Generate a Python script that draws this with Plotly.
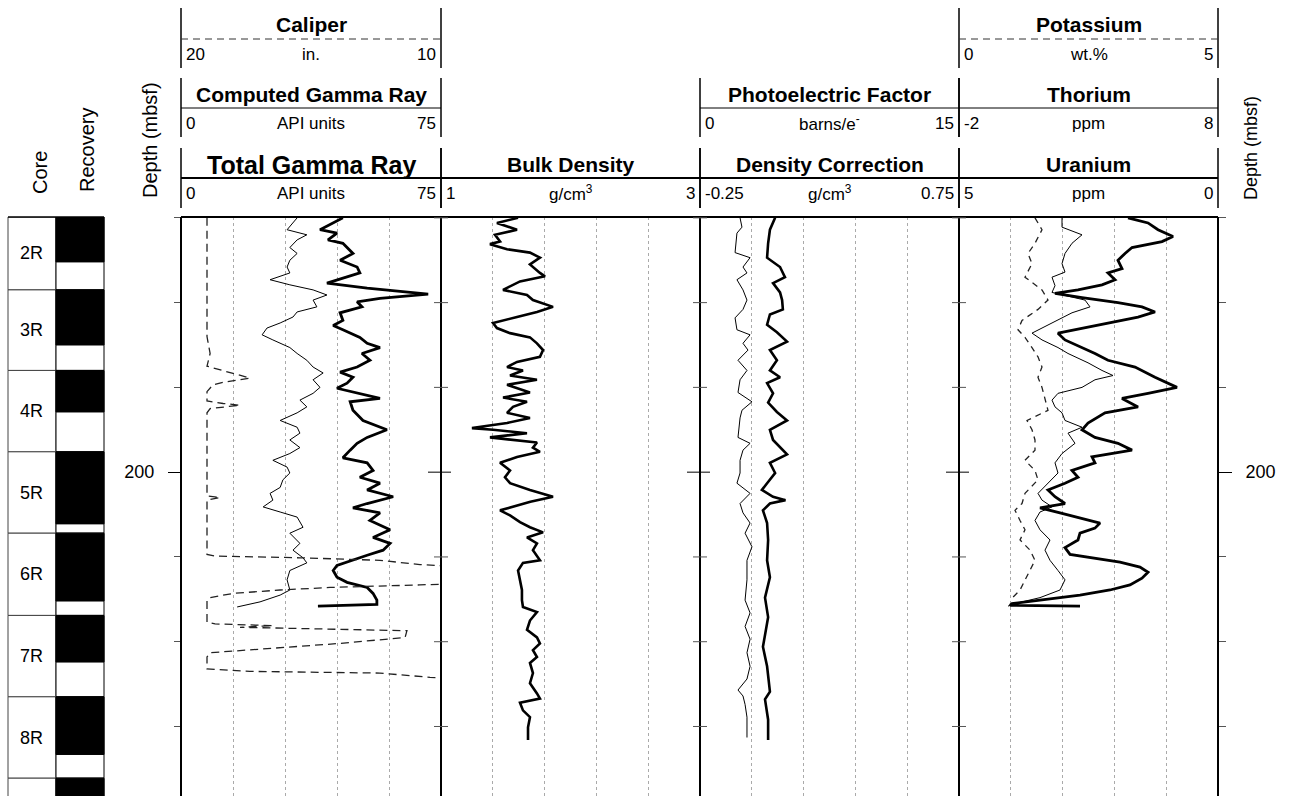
import plotly.graph_objects as go

W, H = 1292, 796

# ---------------- data (depth in mbsf) ----------------
depth_range = [238.2, 169.9]
depth_major = [200]
depth_minor = [170, 180, 190, 210, 220, 230]

core_names = ['2R', '3R', '4R', '5R', '6R', '7R', '8R', '9R']
core_top = [168.9, 178.5, 188.0, 197.6, 207.2, 216.9, 226.5, 236.1]
core_bottom = [178.5, 188.0, 197.6, 207.2, 216.9, 226.5, 236.1, 245.7]
core_recovered = [6.3, 6.5, 4.9, 8.5, 8.0, 5.5, 6.8, 6.0]

# Total gamma ray (API)
tgr_depth = [170.0, 170.6, 171.4, 171.8, 172.6, 173.0, 174.2, 175.0, 175.8, 176.5, 177.3, 177.7,
             178.3, 178.8, 179.0, 179.5, 179.9, 180.5, 181.2, 182.1, 182.7, 183.2, 184.1, 184.8,
             185.3, 186.0, 186.8, 187.6, 188.2, 188.8, 189.5, 190.1, 190.7, 191.3, 191.7, 192.7,
             193.9, 195.0, 195.9, 196.6, 197.4, 198.3, 198.9, 199.8, 200.6, 201.3, 202.1, 202.9,
             203.7, 204.2, 204.8, 205.7, 206.8, 207.7, 208.4, 209.2, 209.8, 210.4, 211.0, 211.6,
             212.4, 213.0, 213.6, 214.3, 215.1, 215.6, 215.8]
tgr_val = [46.7, 43.9, 40.1, 45.0, 42.4, 46.7, 49.6, 45.9, 50.8, 51.6, 45.0, 42.1,
           53.7, 66.1, 71.3, 57.4, 50.8, 52.2, 45.9, 46.7, 43.9, 46.7, 51.6, 53.7,
           57.4, 52.2, 54.5, 50.8, 45.9, 49.6, 47.9, 45.0, 50.8, 57.4, 48.8, 49.6,
           52.5, 59.4, 53.7, 50.8, 48.8, 46.7, 53.7, 55.4, 51.6, 57.4, 53.7, 61.2,
           53.7, 49.6, 57.4, 54.5, 60.3, 55.4, 60.3, 58.3, 53.7, 49.6, 45.0, 43.9,
           45.0, 47.9, 53.7, 55.4, 56.5, 56.5, 39.5]

# Computed gamma ray (API)
cgr_depth = [170.0, 170.6, 171.4, 172.0, 172.6, 173.5, 174.2, 175.0, 175.8, 176.5, 177.3, 177.9,
             178.5, 179.1, 179.7, 180.5, 181.1, 181.7, 182.4, 183.0, 183.8, 184.4, 185.3, 186.0,
             186.8, 187.6, 188.3, 189.1, 190.0, 190.7, 191.5, 192.3, 193.0, 193.9, 194.7, 195.4,
             196.2, 197.1, 197.8, 198.6, 199.4, 200.1, 200.9, 201.8, 202.5, 203.3, 204.1, 204.7,
             205.3, 206.5, 207.2, 208.4, 209.2, 210.1, 210.7, 211.6, 212.7, 213.9, 214.5, 215.3, 215.9]
cgr_val = [33.5, 32.3, 30.6, 36.3, 33.5, 31.4, 33.5, 31.4, 30.6, 31.4, 25.7, 31.4,
           38.1, 42.1, 38.1, 39.2, 33.5, 32.3, 28.6, 24.8, 23.4, 26.5, 31.4, 33.5,
           36.3, 38.1, 41.0, 38.1, 40.1, 38.1, 34.3, 36.3, 33.5, 28.6, 33.5, 34.3,
           31.4, 34.3, 31.4, 26.5, 30.6, 31.4, 29.4, 28.6, 25.7, 26.5, 23.7, 28.6,
           33.5, 35.2, 31.4, 34.3, 32.3, 35.2, 36.3, 31.4, 30.6, 31.4, 28.6, 22.8, 16.2]

# Caliper (in.)
cal_depth = [170.0, 184.0, 184.7, 186.0, 187.5, 188.3, 188.9, 189.4, 189.7, 190.5, 191.6, 191.9,
             192.1, 192.5, 193.0, 202.8, 203.0, 203.3, 209.7, 209.9, 210.1, 210.4, 210.9, 211.2,
             213.1, 213.3, 213.6, 213.9, 214.3, 214.8, 215.1, 217.7, 217.9, 218.1, 218.3, 218.7,
             219.5, 220.2, 220.9, 221.3, 221.8, 223.2, 223.5, 223.7, 224.2, 224.4, 237.0]
cal_val = [19.0, 19.0, 18.96, 18.88, 19.0, 18.1, 17.35, 18.38, 18.77, 19.0, 19.0, 18.38,
           17.73, 18.88, 19.0, 19.0, 18.5, 19.0, 19.0, 18.69, 15.42, 12.35, 10.81, 8.88,
           8.88, 10.81, 14.27, 16.19, 18.0, 18.88, 19.0, 19.0, 18.69, 16.46, 17.73, 11.31,
           11.38, 13.88, 16.96, 18.88, 19.0, 19.0, 17.35, 12.35, 10.42, 8.88, 8.88]

# Bulk density (g/cm3)
rhob_depth = [170.0, 170.6, 171.4, 172.0, 172.8, 173.1, 173.7, 174.1, 174.7, 175.5, 176.5, 176.9,
              177.5, 178.5, 179.1, 179.7, 180.5, 181.1, 181.7, 182.4, 183.0, 183.6, 184.1, 184.8,
              185.6, 186.4, 187.0, 187.6, 188.0, 188.6, 189.1, 189.7, 190.6, 191.2, 191.7, 192.3,
              193.0, 193.6, 194.2, 194.8, 195.0, 195.4, 195.9, 196.5, 197.1, 197.6, 198.2, 198.9,
              199.8, 200.6, 201.3, 202.1, 202.9, 203.5, 204.5, 205.1, 205.9, 206.5, 207.1, 207.7,
              208.4, 209.2, 210.4, 210.7, 211.6, 212.7, 213.9, 215.1, 215.9, 216.5, 217.5, 218.6,
              219.5, 220.2, 221.0, 221.8, 222.5, 223.7, 224.9, 226.1, 226.7, 227.2, 228.1, 228.9,
              230.1, 231.6]
rhob_val = [1.595, 1.432, 1.587, 1.417, 1.456, 1.378, 1.510, 1.687, 1.764, 1.687, 1.764, 1.803,
            1.610, 1.479, 1.664, 1.710, 1.865, 1.741, 1.587, 1.402, 1.432, 1.533, 1.687, 1.741,
            1.788, 1.764, 1.587, 1.510, 1.633, 1.533, 1.741, 1.510, 1.687, 1.479, 1.664, 1.556,
            1.510, 1.687, 1.510, 1.239, 1.402, 1.664, 1.378, 1.741, 1.710, 1.764, 1.587, 1.456,
            1.533, 1.494, 1.533, 1.687, 1.865, 1.690, 1.456, 1.533, 1.610, 1.687, 1.788, 1.664,
            1.741, 1.710, 1.764, 1.633, 1.595, 1.610, 1.625, 1.625, 1.633, 1.741, 1.687, 1.664,
            1.741, 1.764, 1.710, 1.741, 1.687, 1.710, 1.687, 1.741, 1.764, 1.610, 1.633, 1.687,
            1.672, 1.672]

# Photoelectric factor (barns/e-)
pef_depth = [170.0, 171.1, 171.8, 174.1, 174.7, 175.8, 176.5, 177.3, 178.5, 179.7, 180.8, 181.8,
             183.2, 183.8, 184.8, 185.6, 186.8, 188.0, 189.1, 190.6, 191.7, 192.7, 193.6, 195.9,
             196.6, 197.4, 198.6, 200.1, 201.3, 202.5, 203.7, 204.8, 206.0, 207.2, 208.8, 210.4,
             212.7, 215.1, 216.6, 218.2, 219.7, 221.3, 222.9, 224.4, 225.7, 226.4, 227.4, 228.9, 231.3]
pef_val = [2.32, 2.43, 2.14, 2.03, 2.90, 2.49, 2.72, 2.14, 2.49, 2.72, 2.49, 2.03,
           2.14, 2.90, 2.49, 2.78, 2.20, 2.72, 2.32, 2.20, 3.01, 2.43, 2.32, 2.20,
           2.90, 2.49, 2.32, 2.32, 2.14, 2.90, 2.32, 2.49, 2.90, 2.61, 3.01, 2.72,
           2.72, 2.61, 2.90, 2.61, 2.90, 2.72, 2.90, 2.72, 2.20, 2.49, 2.61, 2.72, 2.72]

# Density correction (g/cm3)
drho_depth = [170.0, 171.4, 173.0, 174.7, 175.8, 177.0, 177.7, 178.8, 179.7, 180.8, 181.4, 182.6,
              183.5, 184.6, 185.6, 186.8, 188.0, 188.8, 189.5, 190.7, 191.8, 192.9, 193.9, 195.0,
              196.2, 197.9, 198.9, 200.1, 201.3, 202.1, 202.9, 203.3, 203.7, 204.5, 206.0, 208.0,
              210.4, 212.4, 214.8, 217.1, 220.6, 222.9, 225.9, 226.8, 229.2, 231.6]
drho_val = [0.040, 0.020, 0.013, 0.009, 0.059, 0.078, 0.032, 0.059, 0.067, 0.070, 0.020, 0.009,
            0.047, 0.086, 0.020, 0.047, 0.020, 0.059, 0.009, 0.032, 0.013, 0.047, 0.086, 0.020,
            0.032, 0.086, 0.020, 0.040, 0.009, -0.011, 0.032, 0.080, 0.020, -0.007, 0.009, 0.013,
            0.009, 0.020, 0.001, 0.013, -0.007, 0.009, 0.020, 0.001, 0.013, 0.013]

# Uranium (ppm)
urn_depth = [170.0, 170.6, 171.4, 172.2, 172.8, 173.5, 174.2, 175.0, 176.0, 176.5, 177.3, 177.9,
             178.5, 178.9, 179.4, 180.0, 180.5, 181.1, 181.7, 182.3, 182.9, 183.6, 184.4, 185.3,
             186.0, 186.8, 187.6, 188.8, 189.5, 190.0, 190.7, 191.3, 192.3, 193.0, 194.2, 195.0,
             195.9, 196.6, 197.4, 198.2, 198.9, 199.8, 200.6, 201.3, 202.1, 202.9, 203.7, 204.2,
             204.8, 205.4, 206.0, 206.6, 207.2, 208.0, 208.9, 209.7, 210.6, 211.2, 211.8, 212.5,
             213.3, 213.9, 214.5, 215.1, 215.5, 215.7, 215.8]
urn_val = [1.737, 1.351, 1.158, 0.869, 1.081, 1.660, 1.795, 1.931, 1.853, 2.124, 1.988, 2.239,
           2.703, 3.147, 2.625, 1.931, 1.467, 1.216, 1.544, 2.046, 2.510, 3.089, 2.954, 2.625,
           2.375, 2.124, 1.602, 1.216, 0.965, 0.792, 1.351, 1.853, 1.544, 2.181, 2.510, 2.625,
           2.375, 1.931, 1.660, 2.432, 2.375, 2.819, 2.703, 2.954, 3.282, 3.147, 2.954, 3.436,
           3.050, 2.664, 2.278, 2.375, 2.664, 2.703, 2.954, 2.857, 1.892, 1.506, 1.351, 1.467,
           1.699, 2.085, 2.664, 3.436, 3.977, 4.015, 2.664]

# Thorium (ppm)
thor_depth = [170.0, 171.1, 172.0, 173.0, 174.2, 175.4, 176.4, 177.0, 178.0, 178.8, 179.7, 180.5,
              181.2, 182.4, 183.6, 184.4, 185.3, 186.0, 187.1, 188.0, 188.6, 189.1, 190.0, 190.7,
              191.5, 192.3, 193.0, 193.9, 194.7, 195.4, 196.6, 197.8, 198.9, 200.1, 201.3, 202.5,
              203.3, 204.1, 204.7, 205.7, 206.8, 208.0, 209.2, 210.4, 211.6, 212.7, 213.9, 214.8,
              215.5, 215.8]
thor_val = [1.977, 1.977, 2.749, 2.363, 2.093, 1.977, 2.093, 1.591, 1.707, 1.591, 2.865, 3.058,
            2.363, 1.591, 0.819, 1.205, 1.822, 2.208, 2.981, 3.521, 3.946, 3.251, 2.749, 1.822,
            1.591, 1.707, 1.977, 2.093, 2.749, 2.208, 2.479, 1.977, 1.707, 1.822, 1.436, 1.050,
            1.205, 1.591, 1.127, 0.934, 1.127, 1.514, 1.320, 1.514, 1.822, 2.093, 1.900, 1.127,
            0.162, -0.108]

# Potassium (wt.%)
pot_depth = [170.0, 171.4, 173.0, 174.2, 175.4, 177.0, 178.5, 179.7, 180.8, 182.1, 183.2, 184.1,
             185.3, 186.4, 187.6, 188.8, 190.0, 191.5, 192.7, 193.9, 195.0, 196.2, 197.4, 198.6,
             199.8, 200.9, 202.5, 203.7, 204.5, 205.7, 206.8, 208.0, 209.2, 210.4, 211.6, 212.7,
             213.9, 215.1]
pot_val = [1.467, 1.602, 1.467, 1.332, 1.409, 1.274, 1.602, 1.718, 1.525, 1.216, 1.139, 1.274,
           1.409, 1.525, 1.602, 1.525, 1.602, 1.660, 1.718, 1.313, 1.409, 1.467, 1.467, 1.274,
           1.467, 1.525, 1.274, 1.216, 1.081, 1.178, 1.274, 1.178, 1.371, 1.467, 1.371, 1.274,
           1.178, 0.985]

# ---------------- layout helpers ----------------
FONT = "Liberation Sans, Arial, sans-serif"
TRACKS = [(181, 441), (441, 700), (700, 959), (959, 1218)]
PLOT_TOP = 217


def px(x):
    return x / W


def py(y):
    return 1 - y / H


shapes = []
annotations = []


def vline(x, y0, y1, width=1.5, color='black'):
    shapes.append(dict(type='line', xref='paper', yref='paper', x0=px(x), x1=px(x),
                       y0=py(y0), y1=py(y1), line=dict(color=color, width=width)))


def hline(x0, x1, y, width=1, dash='solid', color='black'):
    shapes.append(dict(type='line', xref='paper', yref='paper', x0=px(x0), x1=px(x1),
                       y0=py(y), y1=py(y), line=dict(color=color, width=width, dash=dash)))


def text(x, y, s, size, xanchor='center', angle=0, bold=False):
    annotations.append(dict(xref='paper', yref='paper', x=px(x), y=py(y), text=('<b>%s</b>' % s) if bold else s,
                            showarrow=False, xanchor=xanchor, yanchor='middle', textangle=angle,
                            font=dict(family=FONT, size=size, color='black')))


# header rows: (top, bottom, line_y, title_y, label_y)
ROWS = {1: (8, 68, 39, 24, 54), 2: (78, 137, 108, 95, 123), 3: (148, 208, 178, 165, 193)}
TSIZE = 21
LSIZE = 17
headers = [
    (0, 1, 'Caliper', '20', 'in.', '10', 'dash', TSIZE),
    (3, 1, 'Potassium', '0', 'wt.%', '5', 'dash', TSIZE),
    (0, 2, 'Computed Gamma Ray', '0', 'API units', '75', 'thin', TSIZE),
    (2, 2, 'Photoelectric Factor', '0', 'barns/e<sup>-</sup>', '15', 'thin', TSIZE),
    (3, 2, 'Thorium', '-2', 'ppm', '8', 'thin', TSIZE),
    (0, 3, 'Total Gamma Ray', '0', 'API units', '75', 'thick', 25),
    (1, 3, 'Bulk Density', '1', 'g/cm<sup>3</sup>', '3', 'thick', TSIZE),
    (2, 3, 'Density Correction', '-0.25', 'g/cm<sup>3</sup>', '0.75', 'thick', TSIZE),
    (3, 3, 'Uranium', '5', 'ppm', '0', 'thick', TSIZE),
]
for ti, row, title, lo, unit, hi, style, tsize in headers:
    x0, x1 = TRACKS[ti]
    top, bot, ly, tyy, lby = ROWS[row]
    vline(x0, top, bot)
    vline(x1, top, bot)
    if style == 'dash':
        hline(x0, x1, ly, width=1, dash='7px,5px', color='#333')
    elif style == 'thin':
        hline(x0, x1, ly, width=1)
    else:
        hline(x0, x1, ly, width=2)
    text((x0 + x1) / 2, tyy, title, tsize, bold=True)
    text(x0 + 3, lby, lo, LSIZE, xanchor='left')
    text((x0 + x1) / 2, lby, unit, LSIZE)
    text(x1 - 3, lby, hi, LSIZE, xanchor='right')

# column titles
text(40, 173, 'Core', 20, angle=-90)
text(87, 150, 'Recovery', 20, angle=-90)
text(150, 140, 'Depth (mbsf)', 20, angle=-90)
text(1251, 148, 'Depth (mbsf)', 18, angle=-90)

# track borders
for x in [181, 441, 700, 959, 1218]:
    vline(x, PLOT_TOP, H, width=2)
hline(181, 1218, PLOT_TOP, width=2)

# depth ticks across interior track borders
for x in [441, 700, 959]:
    for d in depth_minor:
        shapes.append(dict(type='line', xref='paper', yref='y', x0=px(x - 7), x1=px(x + 7), y0=d, y1=d,
                           line=dict(color='#555', width=1)))
    for d in depth_major:
        shapes.append(dict(type='line', xref='paper', yref='y', x0=px(x - 13), x1=px(x + 10), y0=d, y1=d,
                           line=dict(color='black', width=1)))

# core and recovery columns
top_vis = min(depth_range)
bottom_vis = max(depth_range)
for name, t, b, rec in zip(core_names, core_top, core_bottom, core_recovered):
    t_vis = max(t, top_vis)
    shapes.append(dict(type='rect', xref='paper', yref='y', x0=px(8), x1=px(56), y0=t_vis, y1=b,
                       line=dict(color='#444', width=1), fillcolor='white'))
    shapes.append(dict(type='rect', xref='paper', yref='y', x0=px(56), x1=px(104), y0=t_vis, y1=b,
                       line=dict(color='black', width=1), fillcolor='white'))
    shapes.append(dict(type='rect', xref='paper', yref='y', x0=px(56), x1=px(104), y0=t_vis, y1=t + rec,
                       line=dict(color='black', width=1), fillcolor='black'))
    if t < bottom_vis - 4:
        annotations.append(dict(xref='paper', yref='y', x=px(31), y=(t_vis + b) / 2, text=name,
                                showarrow=False, xanchor='center', yanchor='middle',
                                font=dict(family=FONT, size=18, color='black')))
hline(8, 104, PLOT_TOP, width=1.5)

# ---------------- traces ----------------
fig = go.Figure()


def add(x, y, xa, width, dash='solid', color='black'):
    fig.add_trace(go.Scatter(x=x, y=y, xaxis=xa, yaxis='y', mode='lines', hoverinfo='skip',
                             showlegend=False, line=dict(color=color, width=width, dash=dash)))


add(cal_val, cal_depth, 'x3', 1.3, '8px,5px', '#222')
add(cgr_val, cgr_depth, 'x2', 1)
add(tgr_val, tgr_depth, 'x', 2.8)
add(rhob_val, rhob_depth, 'x4', 2.6)
add(pef_val, pef_depth, 'x5', 1)
add(drho_val, drho_depth, 'x6', 2.6)
add(pot_val, pot_depth, 'x9', 1.3, '6px,5px', '#222')
add(thor_val, thor_depth, 'x8', 1)
add(urn_val, urn_depth, 'x7', 2.8)
fig.add_trace(go.Scatter(x=[None], y=[None], xaxis='x7', yaxis='y2', mode='lines', showlegend=False,
                         hoverinfo='skip'))

GRID = dict(showgrid=True, gridcolor='#aaaaaa', griddash='dot', gridwidth=1, showticklabels=False,
            ticks='', zeroline=False, showline=False, anchor='y', fixedrange=True)
HIDDEN = dict(visible=False, anchor='y', fixedrange=True)

yaxis_common = dict(range=depth_range, autorange=False, domain=[0, py(PLOT_TOP)], showgrid=False,
                    zeroline=False, showline=False, ticks='outside', tickvals=depth_major,
                    ticktext=[str(v) for v in depth_major], ticklen=13, tickwidth=1, tickcolor='black',
                    ticklabelstandoff=10, tickfont=dict(family=FONT, size=18, color='black'),
                    minor=dict(tickvals=depth_minor, ticks='outside', ticklen=7, tickcolor='#555', tickwidth=1),
                    anchor='free', fixedrange=True)

fig.update_layout(
    width=W, height=H, margin=dict(l=0, r=0, t=0, b=0), autosize=False,
    paper_bgcolor='white', plot_bgcolor='rgba(0,0,0,0)',
    font=dict(family=FONT, color='black'),
    showlegend=False,
    xaxis=dict(domain=[px(181), px(441)], range=[0, 75], tickvals=[15, 30, 45, 60], **GRID),
    xaxis2=dict(overlaying='x', range=[0, 75], **HIDDEN),
    xaxis3=dict(overlaying='x', range=[20, 10], **HIDDEN),
    xaxis4=dict(domain=[px(441), px(700)], range=[1, 3], tickvals=[1.4, 1.8, 2.2, 2.6], **GRID),
    xaxis5=dict(domain=[px(700), px(959)], range=[0, 15], tickvals=[3, 6, 9, 12], **GRID),
    xaxis6=dict(overlaying='x5', range=[-0.25, 0.75], **HIDDEN),
    xaxis7=dict(domain=[px(959), px(1218)], range=[5, 0], tickvals=[1, 2, 3, 4], **GRID),
    xaxis8=dict(overlaying='x7', range=[-2, 8], **HIDDEN),
    xaxis9=dict(overlaying='x7', range=[0, 5], **HIDDEN),
    yaxis=dict(position=px(181), side='left', **yaxis_common),
    yaxis2=dict(position=px(1218), side='right', overlaying='y', **yaxis_common),
    shapes=shapes,
    annotations=annotations,
)

fig.write_html("out.html")
